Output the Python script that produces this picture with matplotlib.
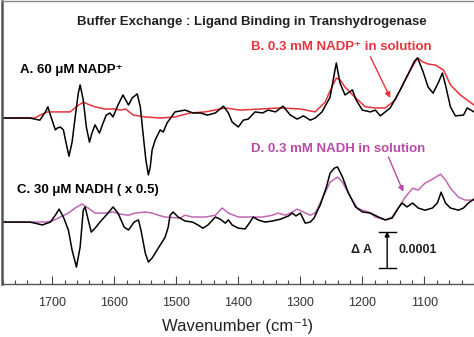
import matplotlib
matplotlib.use("Agg")
import matplotlib.pyplot as plt
import numpy as np

plt.rcParams['font.family'] = ['Liberation Sans', 'DejaVu Sans']

# wavenumbers (cm-1) and dA (units of 1e-4)
wn_a = [1784, 1736, 1728, 1720, 1711, 1707, 1702, 1695, 1692, 1687, 1682, 1678, 1673, 1668, 1663, 1658,
        1655, 1650, 1645, 1640, 1636, 1631, 1624, 1618, 1613, 1607, 1602, 1594, 1586, 1577, 1571, 1563,
        1558, 1553, 1549, 1545, 1542, 1539, 1534, 1526, 1521, 1515, 1502, 1486, 1473, 1461, 1450, 1437,
        1424, 1416, 1410, 1400, 1392, 1384, 1373, 1361, 1352, 1340, 1328, 1316, 1305, 1295, 1284, 1276,
        1265, 1252, 1247, 1242, 1236, 1228, 1216, 1210, 1200, 1187, 1179, 1171, 1163, 1155, 1139, 1123,
        1116, 1111, 1107, 1102, 1094, 1086, 1077, 1071, 1066, 1058, 1050, 1037, 1031, 1020]
da_a = [0.00, 0.00, -0.03, -0.06, 0.17, 0.31, 0.03, -0.33, -0.28, -0.25, -0.33, -0.67, -1.06, -0.67, 0.03, 0.69,
        0.92, 0.50, -0.25, -0.67, -0.42, -0.19, -0.42, -0.14, 0.08, 0.14, 0.03, 0.36, 0.64, 0.36, 0.56, 0.67,
        0.31, -0.53, -1.17, -1.58, -1.36, -0.89, -0.61, -0.33, -0.39, -0.14, 0.17, 0.22, 0.14, 0.14, 0.08, 0.14,
        0.33, 0.14, -0.11, -0.25, -0.06, -0.03, 0.17, 0.14, 0.22, 0.17, 0.33, 0.08, -0.03, 0.06, -0.06, 0.00,
        0.17, 0.58, 1.06, 1.53, 0.97, 0.64, 0.78, 0.50, 0.22, 0.17, 0.22, 0.06, 0.17, 0.28, 0.78, 1.33,
        1.58, 1.67, 1.50, 1.28, 0.86, 0.69, 1.00, 1.25, 0.92, 0.31, 0.06, 0.08, 0.28, 0.17]

wn_b = [1784, 1728, 1720, 1707, 1687, 1671, 1660, 1650, 1639, 1631, 1615, 1599, 1590, 1582, 1569, 1550,
        1526, 1502, 1478, 1453, 1421, 1397, 1365, 1332, 1300, 1276, 1260, 1250, 1242, 1236, 1228, 1211,
        1195, 1179, 1163, 1147, 1131, 1119, 1111, 1103, 1094, 1082, 1069, 1058, 1042, 1020]
da_b = [0.00, 0.00, 0.08, 0.17, 0.17, 0.17, 0.33, 0.44, 0.36, 0.31, 0.25, 0.25, 0.22, 0.25, 0.08, 0.03,
        0.00, 0.03, 0.14, 0.17, 0.28, 0.22, 0.25, 0.28, 0.25, 0.17, 0.44, 0.83, 1.11, 1.06, 0.86, 0.56,
        0.31, 0.28, 0.28, 0.50, 1.06, 1.44, 1.67, 1.56, 1.50, 1.47, 1.33, 0.92, 0.64, 0.36]

wn_c = [1784, 1736, 1728, 1716, 1703, 1695, 1689, 1682, 1674, 1668, 1661, 1655, 1650, 1647, 1642, 1637,
        1631, 1623, 1610, 1602, 1594, 1584, 1577, 1568, 1561, 1557, 1550, 1545, 1539, 1529, 1523, 1518,
        1513, 1510, 1505, 1497, 1486, 1474, 1465, 1457, 1449, 1437, 1429, 1421, 1416, 1410, 1400, 1389,
        1381, 1376, 1368, 1357, 1345, 1332, 1319, 1313, 1307, 1300, 1292, 1284, 1278, 1268, 1258, 1252,
        1245, 1240, 1232, 1223, 1211, 1200, 1187, 1174, 1163, 1152, 1142, 1136, 1128, 1119, 1110, 1099,
        1087, 1079, 1073, 1066, 1058, 1045, 1037, 1029, 1020]
da_c = [0.00, 0.00, -0.03, -0.08, 0.00, 0.19, 0.36, 0.14, -0.22, -0.78, -1.25, -0.69, 0.33, 0.42, 0.06, -0.28,
        -0.17, 0.00, 0.25, 0.42, 0.25, -0.14, -0.22, 0.00, 0.06, -0.22, -0.86, -1.11, -1.00, -0.72, -0.56, -0.42,
        -0.14, 0.19, 0.28, 0.14, 0.03, 0.00, -0.08, -0.17, -0.08, 0.14, 0.08, -0.03, 0.06, -0.08, -0.17, -0.19,
        0.00, 0.14, 0.06, 0.00, 0.03, 0.08, 0.17, 0.25, 0.17, 0.25, -0.03, 0.00, 0.11, 0.47, 0.97, 1.36,
        1.50, 1.53, 1.25, 0.83, 0.42, 0.28, 0.25, 0.14, 0.06, 0.11, 0.39, 0.53, 0.42, 0.53, 0.39, 0.33,
        0.39, 0.53, 0.83, 0.53, 0.39, 0.33, 0.39, 0.53, 0.64]

wn_d = [1784, 1711, 1700, 1687, 1674, 1663, 1652, 1642, 1631, 1615, 1602, 1590, 1577, 1566, 1550, 1539,
        1529, 1518, 1494, 1486, 1474, 1453, 1437, 1426, 1416, 1400, 1381, 1361, 1345, 1336, 1324, 1313,
        1305, 1295, 1284, 1276, 1268, 1252, 1240, 1232, 1219, 1208, 1200, 1190, 1179, 1163, 1152, 1142,
        1131, 1119, 1110, 1099, 1087, 1074, 1066, 1058, 1045, 1034, 1020]
da_d = [0.00, 0.00, 0.03, 0.14, 0.25, 0.39, 0.50, 0.39, 0.25, 0.25, 0.28, 0.22, 0.19, 0.25, 0.28, 0.25,
        0.19, 0.14, 0.11, 0.19, 0.14, 0.14, 0.19, 0.39, 0.25, 0.14, 0.14, 0.14, 0.19, 0.25, 0.19, 0.28,
        0.36, 0.28, 0.19, 0.25, 0.53, 1.11, 1.25, 1.11, 0.69, 0.39, 0.33, 0.28, 0.14, 0.06, 0.14, 0.39,
        0.69, 0.94, 0.89, 1.08, 1.19, 1.33, 1.17, 0.94, 0.69, 0.61, 0.61]

offset_top = 4.61
offset_bottom = 1.72

RED = '#e8323c'
MAG = '#b94aa8'
MAG_LINE = '#c066b4'

fig = plt.figure(figsize=(4.74, 3.37), dpi=100)
ax = fig.add_axes([2 / 474, 1 - 284 / 337, 1 - 2 / 474, 283 / 337])

ax.plot(wn_b, np.array(da_b) + offset_top, color=RED, lw=1.1)
ax.plot(wn_a, np.array(da_a) + offset_top, color='black', lw=1.1)
ax.plot(wn_d, np.array(da_d) + offset_bottom, color=MAG_LINE, lw=1.1)
ax.plot(wn_c, np.array(da_c) + offset_bottom, color='black', lw=1.1)

ax.set_xlim(1781, 1020)
ax.set_ylim(0, 7.86)

ax.set_xticks([1700, 1600, 1500, 1400, 1300, 1200, 1100])
ax.set_xticks(np.arange(1780, 1019, -20), minor=True)
ax.tick_params(axis='x', which='major', direction='in', length=6, width=0.8, color='#444',
               labelsize=9, labelcolor='#333', pad=9)
ax.tick_params(axis='x', which='minor', direction='in', length=3, width=0.8, color='#444')
ax.set_yticks([])
ax.spines['right'].set_visible(False)
ax.spines['left'].set_color('#555')
ax.spines['left'].set_linewidth(1.8)
ax.spines['bottom'].set_color('#555')
ax.spines['bottom'].set_linewidth(1.0)
ax.spines['top'].set_color('#888')
ax.spines['top'].set_linewidth(1.0)

ax.set_xlabel('Wavenumber (cm\u207b\u00b9)', fontsize=12, color='#222', labelpad=7)

# scale bar, 0.0001 absorbance
ax.annotate('', xy=(1160, 1.46), xytext=(1160, 0.44),
            arrowprops=dict(arrowstyle='-|>', color='black', lw=1.0, mutation_scale=7, shrinkA=0, shrinkB=0))
ax.plot([1173, 1146], [1.44, 1.44], color='black', lw=1.0)
ax.plot([1173, 1146], [0.44, 0.44], color='black', lw=1.0)
ax.text(1184, 0.94, '\u0394 A', fontsize=9, fontweight='bold', ha='right', va='center', color='#222')
ax.text(1141, 0.94, '0.0001', fontsize=9, fontweight='bold', ha='left', va='center', color='#222')

# arrows from labels to the solution spectra
ax.annotate('', xy=(1155, 5.17), xytext=(1187, 6.31),
            arrowprops=dict(arrowstyle='-|>', color=RED, lw=1.0, mutation_scale=8, shrinkA=0, shrinkB=0))
ax.annotate('', xy=(1134, 2.56), xytext=(1158, 3.53),
            arrowprops=dict(arrowstyle='-|>', color=MAG, lw=1.0, mutation_scale=8, shrinkA=0, shrinkB=0))

def ftext(px, py, s, **kw):
    fig.text(px / 474, 1 - py / 337, s, fontsize=9.5, fontweight='bold', va='center', **kw)

ftext(252, 22, 'Buffer Exchange : Ligand Binding in Transhydrogenase', ha='center', color='#222')
ftext(251, 47, 'B. 0.3 mM NADP\u207a in solution', ha='left', color=RED)
ftext(20, 70, 'A. 60 \u03bcM NADP\u207a', ha='left', color='black')
ftext(251, 149, 'D. 0.3 mM NADH in solution', ha='left', color=MAG)
ftext(17, 190, 'C. 30 \u03bcM NADH ( x 0.5)', ha='left', color='black')

fig.savefig('out.png', dpi=100)
